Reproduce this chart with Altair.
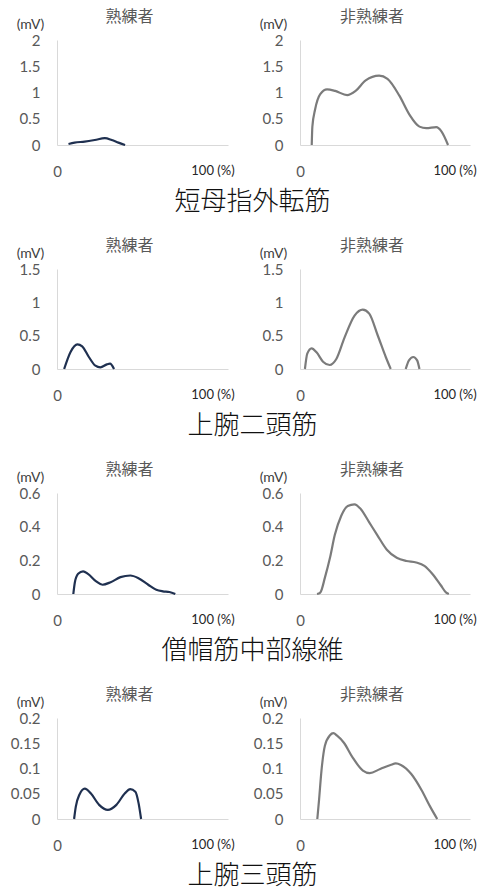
import altair as alt
import pandas as pd

# ---------------- data ----------------
ROW_TITLES = ["短母指外転筋", "上腕二頭筋", "僧帽筋中部線維", "上腕三頭筋"]
PANEL_TITLES = ["熟練者", "非熟練者"]
Y_MAX = [2, 1.5, 0.6, 0.2]
Y_TICKS = [
    [0, 0.5, 1, 1.5, 2],
    [0, 0.5, 1, 1.5],
    [0, 0.2, 0.4, 0.6],
    [0, 0.05, 0.1, 0.15, 0.2],
]
X_TICKS = [0, 100]
X_TICK_LABELS = ["0", "100 (%)"]
Y_UNIT = "(mV)"

# Row 1: 短母指外転筋
r1_skilled_x = [7.4, 11.3, 17.8, 24.3, 30.8, 35.2, 39.5, 43.8]
r1_skilled_y = [0.02, 0.045, 0.065, 0.095, 0.13, 0.095, 0.045, 0.0]
r1_novice_x = [7.6, 8.0, 9.8, 13.1, 17.5, 22.8, 30.5, 36.0, 42.5, 51.2,
               56.6, 64.3, 70.8, 77.3, 81.7, 88.2, 91.5, 95.8]
r1_novice_y = [0, 0.35, 0.68, 0.97, 1.06, 1.03, 0.95, 1.03, 1.23, 1.32,
               1.26, 0.94, 0.58, 0.35, 0.32, 0.34, 0.26, 0]

# Row 2: 上腕二頭筋
r2_skilled_x = [4.6, 8.8, 13.1, 16.2, 20.5, 24.7, 27.9, 32.1, 34.1, 36.7]
r2_skilled_y = [0, 0.26, 0.37, 0.34, 0.18, 0.05, 0.025, 0.07, 0.08, 0]
r2_novice_x = [3.2, 4.7, 7.5, 10.7, 14.9, 19.2, 23.5, 28.8, 35.3, 40.6,
               44.8, 50.2, 55.5, 58.7, 68.4, 70.5, 73.3, 75.8, 77.3]
r2_novice_y = [0, 0.23, 0.31, 0.25, 0.11, 0.06, 0.15, 0.47, 0.80, 0.89,
               0.83, 0.51, 0.18, 0, 0, 0.13, 0.18, 0.13, 0]
r2_novice_seg = [0] * 14 + [1] * 5

# Row 3: 僧帽筋中部線維
r3_skilled_x = [10.5, 11.5, 13.6, 16.8, 19.9, 25.2, 29.3, 34.5, 40.8, 47.2,
                52.4, 58.7, 63.9, 68.1, 72.3, 76.1]
r3_skilled_y = [0, 0.07, 0.12, 0.135, 0.12, 0.075, 0.055, 0.07, 0.10, 0.11,
                0.094, 0.055, 0.025, 0.016, 0.012, 0]
r3_novice_x = [11.0, 13.1, 16.2, 19.4, 22.5, 26.7, 30.9, 35.2, 39.4, 44.7,
               50.0, 56.2, 62.6, 68.9, 75.2, 80.5, 85.7, 91.1, 94.6, 96.3]
r3_novice_y = [0, 0.008, 0.10, 0.215, 0.35, 0.465, 0.523, 0.533, 0.504, 0.427,
               0.35, 0.263, 0.215, 0.196, 0.187, 0.167, 0.119, 0.052, 0.008, 0]

# Row 4: 上腕三頭筋
r4_skilled_x = [11.0, 12.1, 14.4, 17.9, 21.7, 27.1, 32.7, 38.2, 43.7, 47.1,
                50.4, 52.5, 54.1]
r4_skilled_y = [0, 0.0245, 0.048, 0.06, 0.051, 0.028, 0.018, 0.028, 0.051,
                0.059, 0.054, 0.031, 0]
r4_novice_x = [11.2, 12.3, 13.9, 16.1, 19.4, 21.6, 24.0, 28.4, 34.0, 40.7, 45.1,
               51.9, 58.6, 62.0, 65.3, 72.0, 78.7, 84.3, 88.8]
r4_novice_y = [0, 0.037, 0.096, 0.145, 0.166, 0.170, 0.165, 0.151, 0.122, 0.096,
               0.091, 0.099, 0.107, 0.110, 0.107, 0.089, 0.057, 0.024, 0]

SERIES = [
    [(r1_skilled_x, r1_skilled_y, None), (r1_novice_x, r1_novice_y, None)],
    [(r2_skilled_x, r2_skilled_y, None), (r2_novice_x, r2_novice_y, r2_novice_seg)],
    [(r3_skilled_x, r3_skilled_y, None), (r3_novice_x, r3_novice_y, None)],
    [(r4_skilled_x, r4_skilled_y, None), (r4_novice_x, r4_novice_y, None)],
]

# ---------------- style / layout ----------------
LINE_COLORS = ["#1f3050", "#7b7b7b"]
WIDTHS = [171, 170]
HEIGHTS = [105, 100, 101, 101]
X_MAX = 110
GREY = "#595959"
LATIN = "Lato"
CJK = "Noto Sans CJK JP"


def panel(row, col):
    xs, ys, seg = SERIES[row][col]
    df = pd.DataFrame({"x": xs, "y": ys, "seg": seg if seg else [0] * len(xs)})
    label_expr = "datum.value == %d ? '%s' : '%s'" % (X_TICKS[0], X_TICK_LABELS[0], X_TICK_LABELS[1])
    x_axis_kw = dict(
        values=X_TICKS,
        labelExpr=label_expr,
        ticks=False,
        tickSize=0,
        grid=False,
        domainColor="#d9d9d9",
        labelPadding=19,
        labelFont=LATIN,
        labelFontSize={"condition": {"test": "datum.value == 0", "value": 15}, "value": 13},
        labelColor={"condition": {"test": "datum.value == 0", "value": GREY}, "value": "#262626"},
        labelAlign="center",
        labelOverlap=False,
    )
    if col == 0:
        x_axis_kw.update(
            title=ROW_TITLES[row],
            titleX=195,
            titleY=56,
            titleAlign="center",
            titleBaseline="middle",
            titleFont=CJK,
            titleFontSize=26,
            titleFontWeight=300,
            titleColor="#111111",
        )
    else:
        x_axis_kw.update(title="")
    y_axis = alt.Axis(
        values=Y_TICKS[row],
        format="~g",
        ticks=False,
        tickSize=0,
        grid=False,
        domainColor="#d9d9d9",
        labelPadding=17,
        labelFont=LATIN,
        labelFontSize=15,
        labelColor=GREY,
        title=Y_UNIT,
        titleAngle=0,
        titleX=-27,
        titleY=-16,
        titleAlign="center",
        titleBaseline="middle",
        titleFont=LATIN,
        titleFontSize=14,
        titleFontWeight="normal",
        titleColor="#404040",
    )
    return (
        alt.Chart(df)
        .mark_line(color=LINE_COLORS[col], strokeWidth=2.2, interpolate="monotone")
        .encode(
            x=alt.X("x:Q", scale=alt.Scale(domain=[0, X_MAX], nice=False), axis=alt.Axis(**x_axis_kw)),
            y=alt.Y("y:Q", scale=alt.Scale(domain=[0, Y_MAX[row]], nice=False), axis=y_axis),
            detail="seg:N",
        )
        .properties(
            width=WIDTHS[col],
            height=HEIGHTS[row],
            title=alt.TitleParams(
                text=PANEL_TITLES[col],
                font=CJK,
                fontSize=16,
                fontWeight="normal",
                color=GREY,
                anchor="middle",
                frame="group",
                dx=-13,
                offset=-8,
            ),
        )
    )


panels = [panel(r, c) for r in range(4) for c in range(2)]

chart = (
    alt.concat(*panels, columns=2, spacing={"row": 124, "column": 72}, bounds="flush")
    .properties(padding={"left": 2, "top": 1, "right": 5, "bottom": 8}, background="white")
    .configure_view(stroke=None)
)

chart.save("out.html", embed_options={"renderer": "svg", "actions": False})
